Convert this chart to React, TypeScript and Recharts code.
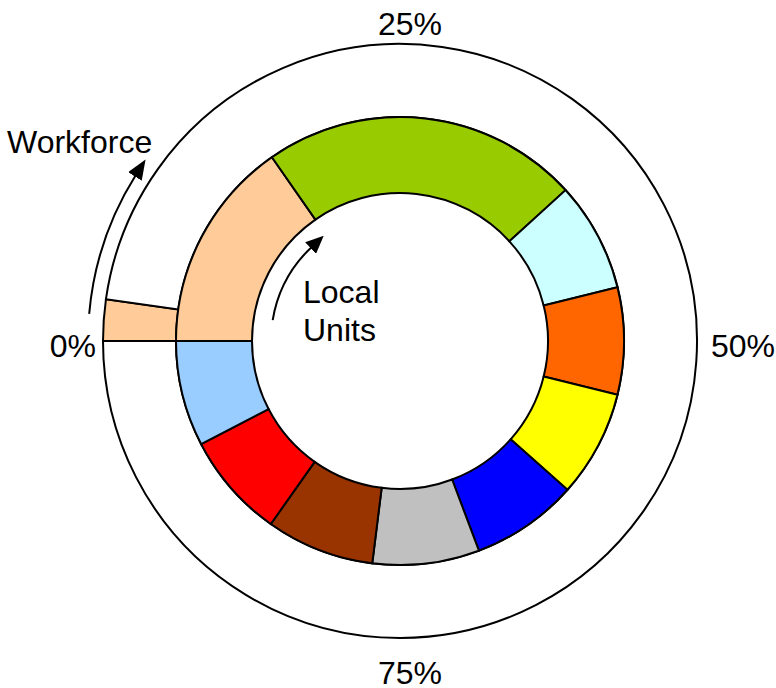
import { PieChart, Pie, Cell } from 'recharts';

// Local Units (inner ring), clockwise from 0% at the left
const unitNames = ['A', 'B', 'C', 'D', 'E', 'F', 'G', 'H', 'I', 'J'];
const unitShares = [15.3, 22.9, 7.9, 7.7, 7.7, 7.7, 7.7, 7.8, 7.6, 7.6];
const unitColors = ['#FFCC99', '#99CC00', '#CCFFFF', '#FF6600', '#FFFF00', '#0000FF', '#C0C0C0', '#993300', '#FF0000', '#99CCFF'];

// Workforce (outer ring): one visible slice, the rest left blank
const workforceNames = ['A', 'rest'];
const workforceShares = [2.25, 97.75];
const workforceColors = ['#FFCC99', '#FFFFFF'];

const tickLabels = ['0%', '25%', '50%', '75%'];

const W = 776;
const H = 688;
const CX = 400;
const CY = 341;
const FONT = '"Liberation Sans", Arial, sans-serif';

const unitData = unitNames.map((name, i) => ({ name, value: unitShares[i] }));
const workforceData = workforceNames.map((name, i) => ({ name, value: workforceShares[i] }));

// point on a circle, angle in degrees (0 = right, counter-clockwise positive)
function polar(r: number, deg: number) {
    const a = (deg * Math.PI) / 180;
    return { x: CX + r * Math.cos(a), y: CY - r * Math.sin(a) };
}

function arcPath(r: number, from: number, to: number) {
    const p0 = polar(r, from);
    const p1 = polar(r, to);
    return `M${p0.x},${p0.y} A${r},${r} 0 0 1 ${p1.x},${p1.y}`;
}

export default function App() {
    const textStyle = { fontFamily: FONT, fontSize: 32, fill: '#000' };
    return (
        <div style={{ position: 'absolute', left: 0, top: 0, width: W, height: H, background: '#fff' }}>
            <PieChart width={W} height={H} margin={{ top: 0, right: 0, bottom: 0, left: 0 }}>
                <Pie
                    data={workforceData}
                    dataKey="value"
                    cx={CX}
                    cy={CY}
                    innerRadius={224}
                    outerRadius={297}
                    startAngle={180}
                    endAngle={-180}
                    stroke="#000"
                    strokeWidth={2}
                    isAnimationActive={false}
                >
                    {workforceData.map((d, i) => (
                        <Cell key={d.name} fill={workforceColors[i]} stroke="#000" strokeWidth={2} />
                    ))}
                </Pie>
                <Pie
                    data={unitData}
                    dataKey="value"
                    cx={CX}
                    cy={CY}
                    innerRadius={148}
                    outerRadius={224}
                    startAngle={180}
                    endAngle={-180}
                    stroke="#000"
                    strokeWidth={2}
                    isAnimationActive={false}
                >
                    {unitData.map((d, i) => (
                        <Cell key={d.name} fill={unitColors[i]} stroke="#000" strokeWidth={2} />
                    ))}
                </Pie>
            </PieChart>
            <svg width={W} height={H} style={{ position: 'absolute', left: 0, top: 0, pointerEvents: 'none' }}>
                <defs>
                    <marker id="head" markerUnits="userSpaceOnUse" markerWidth="20" markerHeight="16" refX="2" refY="8" orient="auto">
                        <path d="M0,0 L20,8 L0,16 z" fill="#000" />
                    </marker>
                    <marker id="headSmall" markerUnits="userSpaceOnUse" markerWidth="18" markerHeight="16" refX="2" refY="8" orient="auto">
                        <path d="M0,0 L18,8 L0,16 z" fill="#000" />
                    </marker>
                </defs>
                <path d={arcPath(312, 175, 147.8)} fill="none" stroke="#000" strokeWidth={2} markerEnd="url(#head)" />
                <path d={arcPath(129, 170.7, 133)} fill="none" stroke="#000" strokeWidth={2} markerEnd="url(#headSmall)" />

                <text x={7} y={153} style={textStyle}>Workforce</text>
                <text x={303} y={303} style={textStyle}>Local</text>
                <text x={303} y={341} style={textStyle}>Units</text>

                <text x={96} y={357} textAnchor="end" style={textStyle}>{tickLabels[0]}</text>
                <text x={410} y={35} textAnchor="middle" style={textStyle}>{tickLabels[1]}</text>
                <text x={711} y={357} textAnchor="start" style={textStyle}>{tickLabels[2]}</text>
                <text x={410} y={684} textAnchor="middle" style={textStyle}>{tickLabels[3]}</text>
            </svg>
        </div>
    );
}
